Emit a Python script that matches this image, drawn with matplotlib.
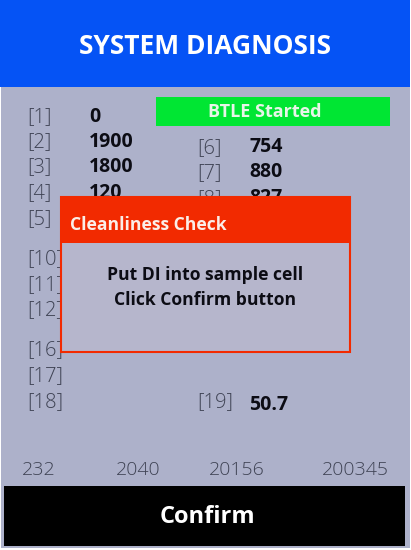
import matplotlib
matplotlib.use("Agg")
import matplotlib.pyplot as plt
from matplotlib.patches import Rectangle

W, H = 411, 550
FONT = "Open Sans"

BG = "#adb1ca"
BLUE = "#0553f5"
GREEN = "#00e633"
RED = "#f22a00"
DIALOG = "#b6b6cc"
GREY_TEXT = "#3f4354"
DARK_TEXT = "#0c0c14"

left_labels = ["[1]", "[2]", "[3]", "[4]", "[5]", "[10]", "[11]", "[12]", "[16]", "[17]", "[18]"]
left_label_y = [117, 142, 167, 193, 219, 259, 285, 310, 350, 376, 402]
left_values = ["0", "1900", "1800", "120"]
left_value_y = [117, 142, 167, 193]

right_labels = ["[6]", "[7]", "[8]", "[19]"]
right_label_y = [148, 173, 199, 402]
right_values = ["754", "880", "827", "50.7"]
right_value_y = [147, 172, 198, 405]

bottom_numbers = ["232", "2040", "20156", "200345"]
bottom_number_x = [39, 138, 237, 355]


def add_rect(ax, x0, y0, x1, y1, **kwargs):
    ax.add_patch(Rectangle((x0, y0), x1 - x0, y1 - y0, **kwargs))


def main() -> None:
    fig = plt.figure(figsize=(W / 100, H / 100), dpi=100, facecolor="white")
    ax = fig.add_axes([0, 0, 1, 1])
    ax.set_xlim(0, W)
    ax.set_ylim(H, 0)
    ax.axis("off")

    add_rect(ax, 1, 0, 410, 548, facecolor=BG, edgecolor="none")
    add_rect(ax, 0, 0, 410, 87, facecolor=BLUE, edgecolor="none")
    ax.text(205, 46, "SYSTEM DIAGNOSIS", color="white", fontsize=19, fontweight="bold",
            ha="center", va="center", family=FONT)

    add_rect(ax, 156, 97, 390, 126, facecolor=GREEN, edgecolor="none")
    ax.text(265, 112, "BTLE Started", color="#e8f5e8", fontsize=13, fontweight="bold",
            ha="center", va="center", family=FONT)

    for label, y in zip(left_labels, left_label_y):
        ax.text(27, y, label, color=GREY_TEXT, fontsize=14.5, ha="left", va="center",
                family=FONT, fontweight="light")
    for value, y in zip(left_values, left_value_y):
        ax.text(89, y, value, color=DARK_TEXT, fontsize=14, fontweight="bold",
                ha="left", va="center", family=FONT)
    for label, y in zip(right_labels, right_label_y):
        ax.text(197, y, label, color=GREY_TEXT, fontsize=14.5, ha="left", va="center",
                family=FONT, fontweight="light")
    for value, y in zip(right_values, right_value_y):
        ax.text(249, y, value, color=DARK_TEXT, fontsize=14, fontweight="bold",
                ha="left", va="center", family=FONT)

    # dialog sits over the labels behind it
    add_rect(ax, 61, 197, 350, 352, facecolor=DIALOG, edgecolor=RED, linewidth=1.5, zorder=5)
    add_rect(ax, 60, 196, 350, 243, facecolor=RED, edgecolor="none", zorder=6)
    ax.text(70, 225, "Cleanliness Check", color="#fbeee8", fontsize=12.6, fontweight="bold",
            ha="left", va="center", family=FONT, zorder=7)
    ax.text(205, 275, "Put DI into sample cell", color=DARK_TEXT, fontsize=12.6, fontweight="bold",
            ha="center", va="center", family=FONT, zorder=7)
    ax.text(205, 300, "Click Confirm button", color=DARK_TEXT, fontsize=12.6, fontweight="bold",
            ha="center", va="center", family=FONT, zorder=7)

    for text, x in zip(bottom_numbers, bottom_number_x):
        ax.text(x, 470, text, color=GREY_TEXT, fontsize=14, ha="center", va="center",
                family=FONT, fontweight="light")

    add_rect(ax, 4, 486, 405, 546, facecolor="black", edgecolor="none")
    ax.text(207, 517, "Confirm", color="white", fontsize=17, fontweight="bold",
            ha="center", va="center", family=FONT)

    fig.savefig("out.png", dpi=100, facecolor="white")
    plt.close(fig)


if __name__ == "__main__":
    main()
